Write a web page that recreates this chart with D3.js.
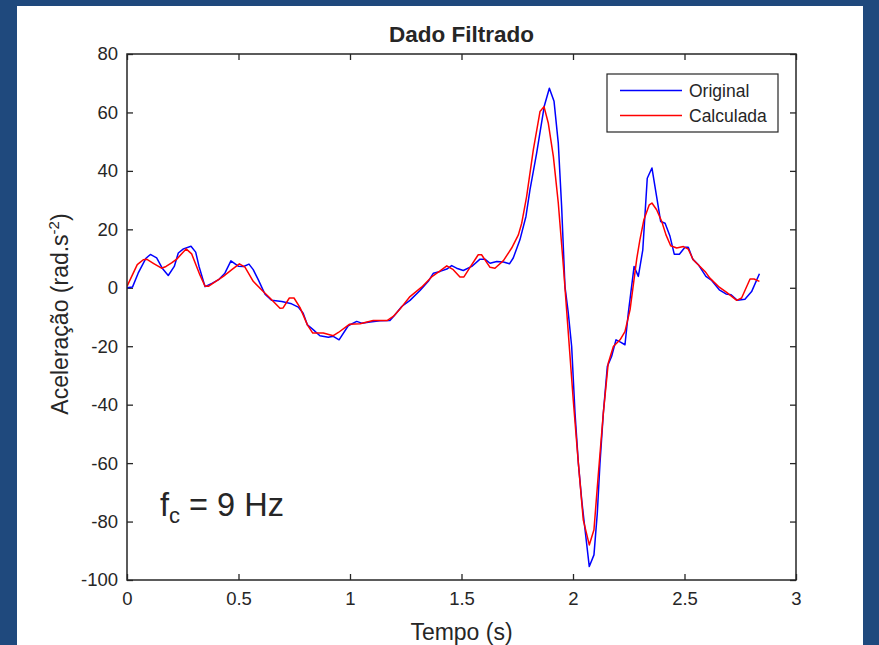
<!DOCTYPE html>
<html>
<head>
<meta charset="utf-8">
<script src="https://cdn.jsdelivr.net/npm/d3@7"></script>
<style>
  html, body { margin: 0; padding: 0; background: #1f497d; }
  svg { display: block; }
  text { font-family: "Liberation Sans", Arial, sans-serif; fill: #262626; }
</style>
</head>
<body>
<svg id="chart" width="879" height="645"></svg>
<script>
// ---- data ----
const origT = [0.000,0.025,0.050,0.084,0.105,0.133,0.158,0.185,0.212,0.230,0.253,0.287,0.308,0.323,0.350,0.383,0.413,0.439,0.466,0.499,0.523,0.547,0.566,0.589,0.619,0.649,0.694,0.738,0.768,0.790,0.809,0.836,0.865,0.903,0.925,0.951,0.992,1.030,1.052,1.090,1.135,1.179,1.202,1.232,1.269,1.314,1.351,1.374,1.404,1.434,1.456,1.478,1.508,1.546,1.583,1.605,1.628,1.658,1.688,1.715,1.732,1.762,1.789,1.807,1.837,1.871,1.894,1.915,1.934,1.949,1.964,1.979,1.994,2.009,2.024,2.039,2.054,2.073,2.094,2.109,2.121,2.136,2.154,2.173,2.193,2.213,2.233,2.248,2.274,2.293,2.313,2.333,2.354,2.375,2.393,2.413,2.435,2.454,2.477,2.502,2.517,2.537,2.562,2.596,2.622,2.656,2.686,2.709,2.737,2.771,2.801,2.836];
const origV = [0.0,0.3,5.0,10.0,11.4,10.2,6.7,4.2,7.3,11.9,13.3,14.2,12.2,7.3,0.4,1.6,2.9,5.0,9.2,7.4,7.3,8.1,6.2,2.7,-2.2,-4.3,-4.7,-5.5,-6.6,-8.7,-12.7,-14.4,-16.4,-16.9,-16.6,-17.8,-13.0,-11.5,-12.1,-11.7,-11.3,-11.2,-9.2,-6.4,-4.3,-0.9,2.2,5.0,5.6,6.4,7.6,6.7,5.9,7.3,9.8,9.8,8.4,9.0,8.8,8.2,10.2,16.4,24.4,33.5,46.1,62.1,68.3,63.8,49.5,27.8,0.4,-8.7,-20.1,-42.9,-60.0,-72.6,-82.8,-95.4,-91.4,-77.1,-60.0,-42.9,-26.9,-23.5,-17.8,-18.6,-19.5,-8.7,7.3,3.9,13.0,37.5,41.0,31.2,22.7,22.1,17.6,11.5,11.5,13.9,13.9,9.8,7.9,3.9,2.5,-0.7,-2.1,-2.4,-4.3,-3.9,-1.3,4.8];

const calcT = [0.000,0.046,0.073,0.088,0.120,0.155,0.175,0.200,0.223,0.265,0.290,0.327,0.350,0.365,0.400,0.432,0.470,0.504,0.529,0.566,0.611,0.641,0.686,0.700,0.728,0.749,0.776,0.809,0.833,0.880,0.925,0.948,0.997,1.045,1.104,1.166,1.194,1.224,1.269,1.321,1.366,1.404,1.434,1.463,1.493,1.511,1.541,1.575,1.590,1.628,1.650,1.688,1.725,1.755,1.770,1.792,1.822,1.852,1.870,1.889,1.912,1.934,1.957,1.979,2.001,2.024,2.046,2.073,2.094,2.114,2.136,2.158,2.181,2.211,2.233,2.256,2.286,2.300,2.318,2.342,2.354,2.375,2.398,2.417,2.438,2.465,2.495,2.517,2.539,2.592,2.614,2.656,2.689,2.734,2.756,2.794,2.812,2.836];
const calcV = [0.5,7.9,9.6,9.8,8.3,6.7,7.3,8.5,9.8,13.3,11.6,4.4,0.5,0.5,2.3,3.9,6.2,8.2,7.1,2.2,-1.3,-3.5,-7.0,-6.9,-3.5,-3.5,-6.8,-12.7,-15.5,-15.5,-16.4,-15.3,-12.5,-12.3,-11.2,-11.2,-9.8,-7.3,-3.0,0.2,3.7,5.8,7.5,6.2,3.7,3.7,7.3,11.3,11.3,7.0,6.7,9.3,13.6,18.1,22.1,31.2,47.2,60.3,62.0,56.4,44.9,29.0,7.3,-15.5,-38.3,-60.0,-79.4,-88.0,-82.8,-63.4,-42.9,-25.8,-20.1,-17.8,-15.0,-7.5,10.0,16.4,23.3,28.4,29.0,26.7,22.7,18.1,14.4,13.6,14.1,13.2,9.6,5.6,3.3,0.2,-1.6,-4.3,-3.5,3.0,3.0,2.2];

const xTicks = [0, 0.5, 1, 1.5, 2, 2.5, 3];
const xTickLabels = ["0", "0.5", "1", "1.5", "2", "2.5", "3"];
const yTicks = [-100, -80, -60, -40, -20, 0, 20, 40, 60, 80];
const yTickLabels = ["-100", "-80", "-60", "-40", "-20", "0", "20", "40", "60", "80"];
const seriesNames = ["Original", "Calculada"];
const seriesColors = ["#0000ff", "#ff0000"];

// ---- layout ----
const W = 879, H = 645;
const plot = { left: 127, right: 796, top: 54, bottom: 580 };

const svg = d3.select("#chart");

svg.append("rect").attr("x", 0).attr("y", 0).attr("width", W).attr("height", H).attr("fill", "#1f497d");
svg.append("rect").attr("x", 17).attr("y", 6).attr("width", 846).attr("height", H - 6).attr("fill", "#ffffff");

const x = d3.scaleLinear().domain([0, 3]).range([plot.left, plot.right]);
const y = d3.scaleLinear().domain([-100, 80]).range([plot.bottom, plot.top]);

const axisColor = "#262626";
const tickFont = "18.5px";

function styleAxis(g) {
  g.selectAll("path.domain").remove();
  g.selectAll(".tick line").attr("stroke", axisColor).attr("stroke-width", 1.3);
  g.selectAll(".tick text").style("font-size", tickFont).attr("fill", axisColor)
    .style("font-family", '"Liberation Sans", Arial, sans-serif');
}

svg.append("g").attr("transform", `translate(0,${plot.bottom})`)
  .call(d3.axisBottom(x).tickValues(xTicks).tickSizeInner(-6).tickSizeOuter(0).tickPadding(12)
    .tickFormat((d, i) => xTickLabels[i]))
  .call(styleAxis);
svg.append("g").attr("transform", `translate(0,${plot.top})`)
  .call(d3.axisTop(x).tickValues(xTicks).tickSizeInner(-6).tickSizeOuter(0).tickFormat(""))
  .call(styleAxis);
svg.append("g").attr("transform", `translate(${plot.left},0)`)
  .call(d3.axisLeft(y).tickValues(yTicks).tickSizeInner(-6).tickSizeOuter(0).tickPadding(9)
    .tickFormat((d, i) => yTickLabels[i]))
  .call(styleAxis);
svg.append("g").attr("transform", `translate(${plot.right},0)`)
  .call(d3.axisRight(y).tickValues(yTicks).tickSizeInner(-6).tickSizeOuter(0).tickFormat(""))
  .call(styleAxis);

const lineGen = d3.line().x(d => x(d[0])).y(d => y(d[1]));
const origData = origT.map((t, i) => [t, origV[i]]);
const calcData = calcT.map((t, i) => [t, calcV[i]]);

svg.append("clipPath").attr("id", "clip").append("rect")
  .attr("x", plot.left).attr("y", plot.top).attr("width", plot.right - plot.left).attr("height", plot.bottom - plot.top);

const lines = svg.append("g").attr("clip-path", "url(#clip)");
lines.append("path").datum(origData).attr("d", lineGen)
  .attr("fill", "none").attr("stroke", seriesColors[0]).attr("stroke-width", 1.5).attr("stroke-linejoin", "round");
lines.append("path").datum(calcData).attr("d", lineGen)
  .attr("fill", "none").attr("stroke", seriesColors[1]).attr("stroke-width", 1.5).attr("stroke-linejoin", "round");

svg.append("rect").attr("x", plot.left).attr("y", plot.top)
  .attr("width", plot.right - plot.left).attr("height", plot.bottom - plot.top)
  .attr("fill", "none").attr("stroke", axisColor).attr("stroke-width", 1.5);

// title
svg.append("text").attr("x", (plot.left + plot.right) / 2).attr("y", 42)
  .attr("text-anchor", "middle").style("font-size", "22.5px").style("font-weight", "bold")
  .attr("fill", "#000").text("Dado Filtrado");

// x label
svg.append("text").attr("x", (plot.left + plot.right) / 2).attr("y", 640)
  .attr("text-anchor", "middle").style("font-size", "23px").attr("fill", axisColor).text("Tempo (s)");

// y label
const yl = svg.append("text").attr("transform", "translate(68,314) rotate(-90)")
  .attr("text-anchor", "middle").style("font-size", "23px").attr("fill", axisColor);
yl.append("tspan").text("Aceleração (rad.s");
yl.append("tspan").attr("dy", -9).style("font-size", "15px").text("-2");
yl.append("tspan").attr("dy", 9).text(")");

// annotation f_c = 9 Hz
const ann = svg.append("text").attr("x", 160).attr("y", 516).style("font-size", "32.5px").attr("fill", "#000");
ann.append("tspan").text("f");
ann.append("tspan").attr("dy", 7).style("font-size", "22px").text("c");
ann.append("tspan").attr("dy", -7).text(" = 9 Hz");

// legend
const lg = svg.append("g");
lg.append("rect").attr("x", 607).attr("y", 74).attr("width", 171).attr("height", 58)
  .attr("fill", "#fff").attr("stroke", axisColor).attr("stroke-width", 1.2);
seriesNames.forEach((name, i) => {
  const ly = 90.5 + i * 25;
  lg.append("line").attr("x1", 620).attr("x2", 682).attr("y1", ly).attr("y2", ly)
    .attr("stroke", seriesColors[i]).attr("stroke-width", 1.5);
  lg.append("text").attr("x", 689).attr("y", ly + 6.5).style("font-size", "17.5px")
    .attr("fill", "#000").text(name);
});
</script>
</body>
</html>
